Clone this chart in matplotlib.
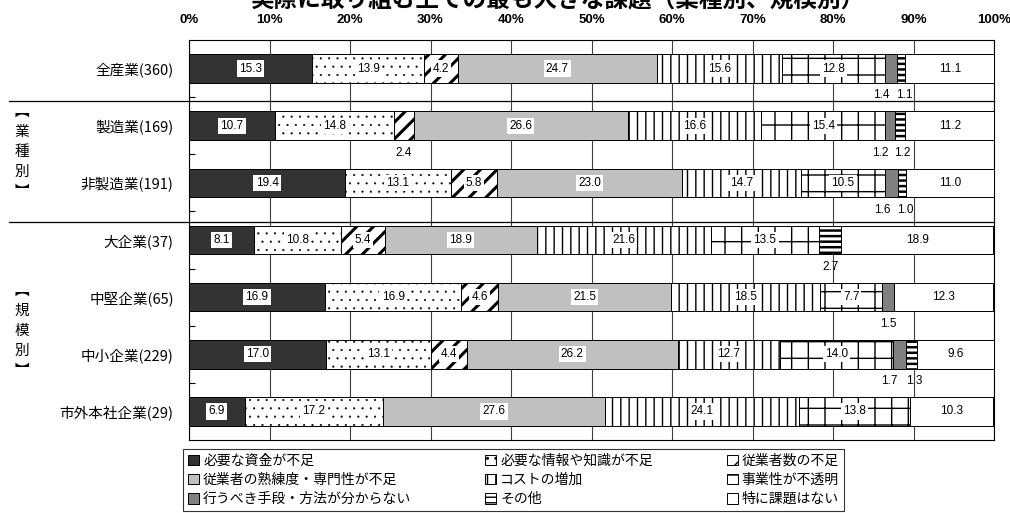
import matplotlib
matplotlib.use("Agg")
import numpy as np
import matplotlib.pyplot as plt
from matplotlib.patches import Patch

plt.rcParams['font.family'] = ['Noto Sans CJK JP', 'DejaVu Sans']
NUM_FONT = ['Liberation Sans Narrow', 'Liberation Sans', 'DejaVu Sans']

title = "実際に取り組む上での最も大きな課題（業種別、規模別）"
categories = ["全産業(360)", "製造業(169)", "非製造業(191)", "大企業(37)",
              "中堅企業(65)", "中小企業(229)", "市外本社企業(29)"]
series_names = ["必要な資金が不足", "必要な情報や知識が不足", "従業者数の不足",
                "従業者の熟練度・専門性が不足", "コストの増加", "事業性が不透明",
                "行うべき手段・方法が分からない", "その他", "特に課題はない"]

shortage_funds = [15.3, 10.7, 19.4, 8.1, 16.9, 17.0, 6.9]
lack_info = [13.9, 14.8, 13.1, 10.8, 16.9, 13.1, 17.2]
lack_staff = [4.2, 2.4, 5.8, 5.4, 4.6, 4.4, 0.0]
lack_skill = [24.7, 26.6, 23.0, 18.9, 21.5, 26.2, 27.6]
cost_up = [15.6, 16.6, 14.7, 21.6, 18.5, 12.7, 24.1]
unclear_business = [12.8, 15.4, 10.5, 13.5, 7.7, 14.0, 13.8]
unknown_method = [1.4, 1.2, 1.6, 0.0, 1.5, 1.7, 0.0]
other = [1.1, 1.2, 1.0, 2.7, 0.0, 1.3, 0.0]
no_issue = [11.1, 11.2, 11.0, 18.9, 12.3, 9.6, 10.3]

xticks = list(range(0, 101, 10))
xticklabels = [f"{t}%" for t in xticks]

series = [shortage_funds, lack_info, lack_staff, lack_skill, cost_up,
          unclear_business, unknown_method, other, no_issue]
# facecolor, hatch, hatch linewidth
styles = [("#333333", None, 1.0),
          ("white", "..", 0.3),
          ("white", "//", 2.2),
          ("#c0c0c0", None, 1.0),
          ("white", "||", 1.0),
          ("white", "+", 1.0),
          ("#808080", None, 1.0),
          ("white", "---", 1.8),
          ("white", None, 1.0)]

W, H = 1010, 513
fig = plt.figure(figsize=(W / 100, H / 100), dpi=100)
ax = fig.add_axes([189 / W, 1 - 440 / H, 805 / W, 400 / H])

y = np.arange(len(categories))
left = np.zeros(len(categories))
handles = []
for vals, name, (fc, hatch, hlw) in zip(series, series_names, styles):
    vals = np.array(vals)
    with plt.rc_context({"hatch.linewidth": hlw}):
        bars = ax.barh(y, vals, left=left, height=0.5, color=fc, edgecolor="black",
                       linewidth=0.7, hatch=hatch, zorder=3)
        for b in bars:
            try:
                b.set_hatch_linewidth(hlw)
            except AttributeError:
                pass
        h = Patch(facecolor=fc, edgecolor="black", linewidth=0.7, hatch=hatch)
        try:
            h.set_hatch_linewidth(min(hlw, 1.0))
        except AttributeError:
            pass
    handles.append(h)
    left = left + vals

# value labels
left = np.zeros(len(categories))
for vals in series:
    vals = np.array(vals)
    for i, v in enumerate(vals):
        if v >= 3:
            ax.text(left[i] + v / 2, y[i], f"{v:.1f}", ha="center", va="center",
                    fontsize=8.5, family=NUM_FONT, zorder=5,
                    bbox=dict(facecolor="white", edgecolor="none", pad=1.5))
    left = left + vals

# small values below the bars
cum = np.cumsum(np.array(series), axis=0)
arr = np.array(series)
for i in range(len(categories)):
    for k in range(arr.shape[0]):
        v = arr[k, i]
        if 0 < v < 3:
            xc = cum[k, i] - v / 2
            dx = 0
            if k + 1 < arr.shape[0] and 0 < arr[k + 1, i] < 3:
                dx = -7
            elif k > 0 and 0 < arr[k - 1, i] < 3:
                dx = 2
            ax.annotate(f"{v:.1f}", (xc, y[i] + 0.47), xytext=(dx, 0),
                        textcoords="offset points", ha="center", va="center",
                        fontsize=8.5, family=NUM_FONT, zorder=5)

ax.set_xlim(0, 100)
ax.set_ylim(len(categories) - 0.5, -0.5)
ax.set_xticks(xticks, labels=xticklabels)
ax.xaxis.tick_top()
ax.tick_params(axis="x", length=0, pad=10)
for lab in ax.get_xticklabels():
    lab.set_fontweight("bold")
    lab.set_family(NUM_FONT)
    lab.set_fontsize(9.5)
ax.grid(axis="x", color="#404040", linewidth=0.8, zorder=0)

ax.set_yticks(y, labels=categories, minor=True)
ax.tick_params(axis="y", which="minor", length=0, pad=11, labelsize=10.5)
ax.set_yticks(np.arange(0.5, len(categories) - 1, 1))
ax.tick_params(axis="y", which="major", direction="in", length=4, labelleft=False)
for s in ax.spines.values():
    s.set_color("black")
    s.set_linewidth(0.8)

# group separators
for ys in [0.56, 2.69]:
    ax.plot([-180 / 805, 1.0], [ys, ys], color="black", linewidth=0.9,
            transform=ax.get_yaxis_transform(), clip_on=False, zorder=4)

fig.text(21.7 / W, 1 - 152 / H, "︻\n業\n種\n別\n︼", ha="center", va="center",
         fontsize=10.5, linespacing=1.55)
fig.text(21.7 / W, 1 - 331 / H, "︻\n規\n模\n別\n︼", ha="center", va="center",
         fontsize=10.5, linespacing=1.55)

fig.text(558 / W, 1 - 6 / H, title, ha="center", va="baseline", fontsize=17,
         fontweight="bold")

order = [0, 3, 6, 1, 4, 7, 2, 5, 8]
leg = fig.legend([handles[k] for k in order], [series_names[k] for k in order],
                 ncol=3, loc="upper left", bbox_to_anchor=(183 / W, 1 - 449 / H),
                 frameon=True, fancybox=False, edgecolor="black", fontsize=10,
                 handlelength=0.8, handleheight=0.8, handletextpad=0.3,
                 columnspacing=5.3, labelspacing=0.37, borderpad=0.35,
                 borderaxespad=0)
leg.get_frame().set_linewidth(0.8)

fig.savefig("out.png", dpi=100)
